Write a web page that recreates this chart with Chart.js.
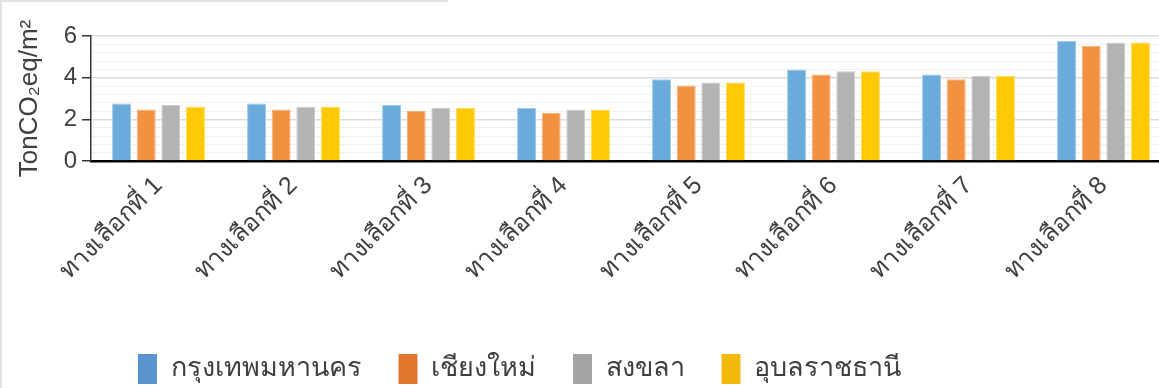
<!DOCTYPE html>
<html>
<head>
<meta charset="utf-8">
<script src="https://cdn.jsdelivr.net/npm/chart.js@4/dist/chart.umd.min.js"></script>
<style>
    html, body { margin: 0; padding: 0; background: #fff; overflow: hidden; }
    body { width: 1159px; height: 388px; position: relative; }
    .chart-box { position: absolute; left: 0; top: 0; width: 1175px; height: 388px; }
    .frame-left { position: absolute; left: 0; top: 0; width: 2px; height: 388px; background: #e4e0dc; }
    .frame-top { position: absolute; left: 0; top: 0; width: 448px; height: 2px; background: #e4e0dc; }
</style>
</head>
<body>
<div class="chart-box"><canvas id="co2Chart"></canvas></div>
<div class="frame-left"></div>
<div class="frame-top"></div>
<script>
// Data
const categories = ['ทางเลือกที่ 1', 'ทางเลือกที่ 2', 'ทางเลือกที่ 3', 'ทางเลือกที่ 4',
                    'ทางเลือกที่ 5', 'ทางเลือกที่ 6', 'ทางเลือกที่ 7', 'ทางเลือกที่ 8'];
const seriesNames = ['กรุงเทพมหานคร', 'เชียงใหม่', 'สงขลา', 'อุบลราชธานี'];
const bangkok = [2.76, 2.76, 2.70, 2.55, 3.93, 4.39, 4.15, 5.77];
const chiangMai = [2.47, 2.47, 2.40, 2.31, 3.62, 4.15, 3.93, 5.53];
const songkhla = [2.69, 2.61, 2.55, 2.47, 3.77, 4.31, 4.08, 5.69];
const ubon = [2.61, 2.61, 2.55, 2.47, 3.77, 4.31, 4.08, 5.69];
const yTickLabels = [0, 2, 4, 6];

const barColors = ['#6aabdc', '#f29241', '#b3b3b3', '#ffc905'];
const barEdges = ['#9fcaec', '#f7b27a', '#cdcdcd', '#ffdc5c'];
const legendColors = ['#5b95cf', '#e1772f', '#a5a5a5', '#f2b90b'];
const fontFamily = "'Liberation Sans', 'Noto Sans', sans-serif";
const textColor = '#404040';

function isMajor(v) {
    return yTickLabels.some(t => Math.abs(t - v) < 1e-6);
}

// nudge the legend to where the original sits
const legendShift = {
    id: 'legendShift',
    afterLayout(chart) {
        const lg = chart.legend;
        const dx = -73, dy = 6;
        lg.left += dx; lg.right += dx;
        lg.top += dy; lg.bottom += dy;
    }
};

new Chart(document.getElementById('co2Chart'), {
    type: 'bar',
    data: {
        labels: categories,
        datasets: [bangkok, chiangMai, songkhla, ubon].map((vals, i) => ({
            label: seriesNames[i],
            data: vals,
            backgroundColor: barColors[i],
            borderColor: barEdges[i],
            borderWidth: 1,
            categoryPercentage: 0.73,
            barPercentage: 0.77
        }))
    },
    options: {
        responsive: true,
        maintainAspectRatio: false,
        animation: false,
        layout: { padding: { left: 14, right: 4, top: 36, bottom: 0 } },
        plugins: {
            tooltip: { enabled: false },
            legend: {
                position: 'bottom',
                labels: {
                    boxWidth: 19,
                    boxHeight: 30,
                    padding: 37,
                    color: textColor,
                    font: { family: fontFamily, size: 27 },
                    generateLabels: (chart) => seriesNames.map((name, i) => ({
                        text: name,
                        fillStyle: legendColors[i],
                        strokeStyle: legendColors[i],
                        lineWidth: 0,
                        fontColor: textColor,
                        datasetIndex: i
                    }))
                }
            }
        },
        scales: {
            x: {
                grid: { display: false },
                border: { display: true, color: '#000', width: 2.5 },
                ticks: {
                    color: textColor,
                    font: { family: fontFamily, size: 25 },
                    minRotation: 45,
                    maxRotation: 45,
                    padding: 2
                },
                afterFit: (s) => { s.height = 150; }
            },
            y: {
                min: 0,
                max: 6,
                border: { display: true, color: '#333', width: 1.5 },
                grid: {
                    color: (ctx) => isMajor(ctx.tick.value) ? '#dcdcdc' : '#f1f1f1',
                    lineWidth: (ctx) => isMajor(ctx.tick.value) ? 1.5 : 1,
                    tickColor: (ctx) => isMajor(ctx.tick.value) ? '#333' : 'rgba(0,0,0,0)',
                    tickLength: 9
                },
                ticks: {
                    stepSize: 0.4,
                    maxTicksLimit: 20,
                    autoSkip: false,
                    color: textColor,
                    padding: 5,
                    font: { family: fontFamily, size: 24 },
                    callback: (v) => isMajor(v) ? Math.round(v) : ''
                },
                title: {
                    display: true,
                    text: 'TonCO₂eq/m²',
                    color: textColor,
                    font: { family: fontFamily, size: 26 },
                    padding: { top: 0, bottom: 0 }
                },
                afterFit: (s) => { s.width = 77; }
            }
        }
    },
    plugins: [legendShift]
});
</script>
</body>
</html>
